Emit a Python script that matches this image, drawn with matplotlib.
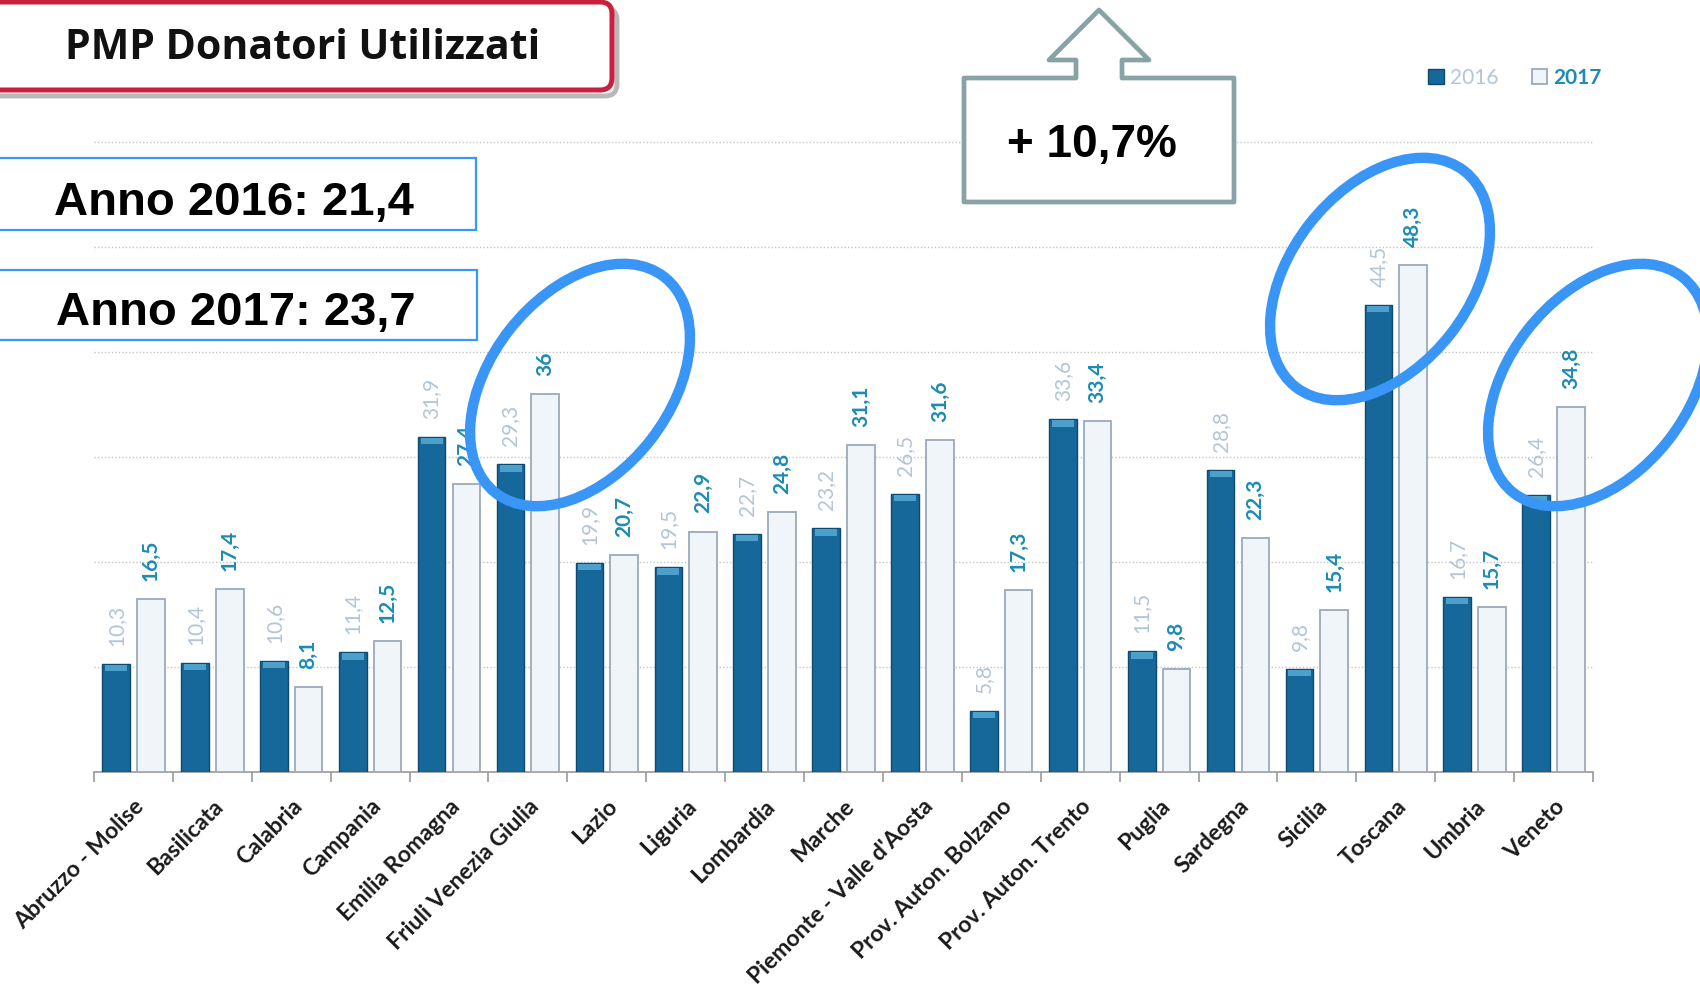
import matplotlib
matplotlib.use("Agg")
import matplotlib.pyplot as plt
from matplotlib.patches import Ellipse, FancyBboxPatch, Rectangle, Polygon
import numpy as np

# ---------------- data ----------------
categories = ["Abruzzo - Molise", "Basilicata", "Calabria", "Campania", "Emilia Romagna",
              "Friuli Venezia Giulia", "Lazio", "Liguria", "Lombardia", "Marche",
              "Piemonte - Valle d'Aosta", "Prov. Auton. Bolzano", "Prov. Auton. Trento",
              "Puglia", "Sardegna", "Sicilia", "Toscana", "Umbria", "Veneto"]
values_2016 = [10.3, 10.4, 10.6, 11.4, 31.9, 29.3, 19.9, 19.5, 22.7, 23.2,
               26.5, 5.8, 33.6, 11.5, 28.8, 9.8, 44.5, 16.7, 26.4]
values_2017 = [16.5, 17.4, 8.1, 12.5, 27.4, 36, 20.7, 22.9, 24.8, 31.1,
               31.6, 17.3, 33.4, 9.8, 22.3, 15.4, 48.3, 15.7, 34.8]
series_names = ["2016", "2017"]
title_text = "PMP Donatori Utilizzati"
mean_labels = ["Anno 2016: 21,4", "Anno 2017: 23,7"]
growth_text = "+ 10,7%"

# ---------------- style ----------------
W, H = 1700, 990
DARK = "#17689a"
DARK_EDGE = "#0e4a70"
CAP = "#4d9fcc"
LIGHT = "#f0f5f9"
LIGHT_EDGE = "#9aa9bb"
LBL16 = "#b3c5d6"
LBL17 = "#1c8bb5"
ELL = "#3a96f6"

def fmt(v):
    return f"{v:g}".replace(".", ",")

fig = plt.figure(figsize=(W / 100, H / 100), dpi=100)
base_px, top_px = 772, 131.5
ax = fig.add_axes([94 / W, 1 - base_px / H, 1499 / W, (base_px - top_px) / H])

n = len(categories)
x = np.arange(n)
bw, off = 0.35, 0.22
v16 = np.array(values_2016)
v17 = np.array(values_2017)

b1 = ax.bar(x - off, v16, bw, color=DARK, edgecolor=DARK_EDGE, linewidth=1, zorder=3)
ax.bar(x - off, np.full(n, 0.6), bw * 0.8, bottom=v16 - 0.7, color=CAP, linewidth=0, zorder=4)
b2 = ax.bar(x + off, v17, bw, color=LIGHT, edgecolor=LIGHT_EDGE, linewidth=1.3, zorder=3)

for xi, v in zip(x, v16):
    ax.annotate(fmt(v), (xi - off, v), xytext=(0, 13), textcoords="offset points",
                rotation=90, ha="center", va="bottom", fontsize=15, color=LBL16,
                family="Lato", zorder=6)
for xi, v in zip(x, v17):
    ax.annotate(fmt(v), (xi + off, v), xytext=(0, 13), textcoords="offset points",
                rotation=90, ha="center", va="bottom", fontsize=15, color=LBL17,
                family="Lato", fontweight="bold", zorder=6)

ax.set_xlim(-0.5, n - 0.5)
ax.set_ylim(0, 61)
ax.set_yticks(range(10, 61, 10))
ax.yaxis.grid(True, linestyle=(0, (1, 1.5)), color="#c6c6c6", linewidth=1)
ax.set_axisbelow(True)
ax.tick_params(axis="y", length=0, labelleft=False)
for s in ["top", "right", "left"]:
    ax.spines[s].set_visible(False)
ax.spines["bottom"].set_color("#9a9a9a")
ax.spines["bottom"].set_linewidth(1.2)

ax.set_xticks(x)
ax.set_xticklabels(categories, rotation=45, ha="right", va="top", rotation_mode="anchor",
                   fontsize=16.5, fontweight="bold", family="Lato", color="#1a1a1a")
ax.set_xticks(np.arange(-0.5, n, 1), minor=True)
ax.tick_params(axis="x", which="major", length=0, pad=17)
ax.tick_params(axis="x", which="minor", length=7, color="#9a9a9a", width=1.2)
ax.patch.set_alpha(0)

leg = fig.legend([b1, b2], series_names, loc="center left",
                 bbox_to_anchor=(1428 / W, 1 - 78 / H), ncol=2, frameon=False,
                 prop={"family": "Lato", "size": 15}, handlelength=0.75, handleheight=0.75,
                 handletextpad=0.3, columnspacing=1.6, borderpad=0, borderaxespad=0)
t16, t17 = leg.get_texts()
t16.set_color(LBL16)
t17.set_color(LBL17)
t17.set_fontweight("bold")

# ---------------- overlay (annotations in pixel space) ----------------
ov = fig.add_axes([0, 0, 1, 1], zorder=10)
ov.set_xlim(0, W)
ov.set_ylim(H, 0)
ov.axis("off")
ov.patch.set_alpha(0)

# title box
ov.add_patch(FancyBboxPatch((-25, 8), 642, 88, boxstyle="round,pad=0,rounding_size=12",
                            fc="none", ec="#b8b8b8", lw=3.5))
ov.add_patch(FancyBboxPatch((-30, 2), 642, 88, boxstyle="round,pad=0,rounding_size=12",
                            fc="white", ec="#c8203e", lw=3.6))
ov.text(303, 59, title_text, ha="center", va="baseline", fontsize=29.5,
        fontweight="bold", family="Open Sans", color="#111111")

# yearly mean boxes
ov.add_patch(Rectangle((-5, 158), 481, 72, fc="white", ec="#3399ff", lw=1.6))
ov.text(234, 215, mean_labels[0], ha="center", va="baseline", fontsize=34,
        fontweight="bold", family="Liberation Sans", color="black")
ov.add_patch(Rectangle((-5, 270), 482, 70, fc="white", ec="#3399ff", lw=1.6))
ov.text(236, 325, mean_labels[1], ha="center", va="baseline", fontsize=34,
        fontweight="bold", family="Liberation Sans", color="black")

# arrow callout
arrow_pts = [(964, 202), (964, 78), (1076, 78), (1076, 60), (1049, 60), (1099, 10),
             (1149, 60), (1122, 60), (1122, 78), (1234, 78), (1234, 202)]
ov.add_patch(Polygon(arrow_pts, closed=True, fc="white", ec="#87a3a5", lw=3.4,
                     joinstyle="round"))
ov.text(1092, 157, growth_text, ha="center", va="baseline", fontsize=33,
        fontweight="bold", family="Liberation Sans", color="black")

# highlight ellipses
for (cx, cy) in [(580, 385), (1380, 279), (1598, 385)]:
    ov.add_patch(Ellipse((cx, cy), 274, 179, angle=-52, fill=False, ec=ELL, lw=7.5))

fig.savefig("out.png", dpi=100)
